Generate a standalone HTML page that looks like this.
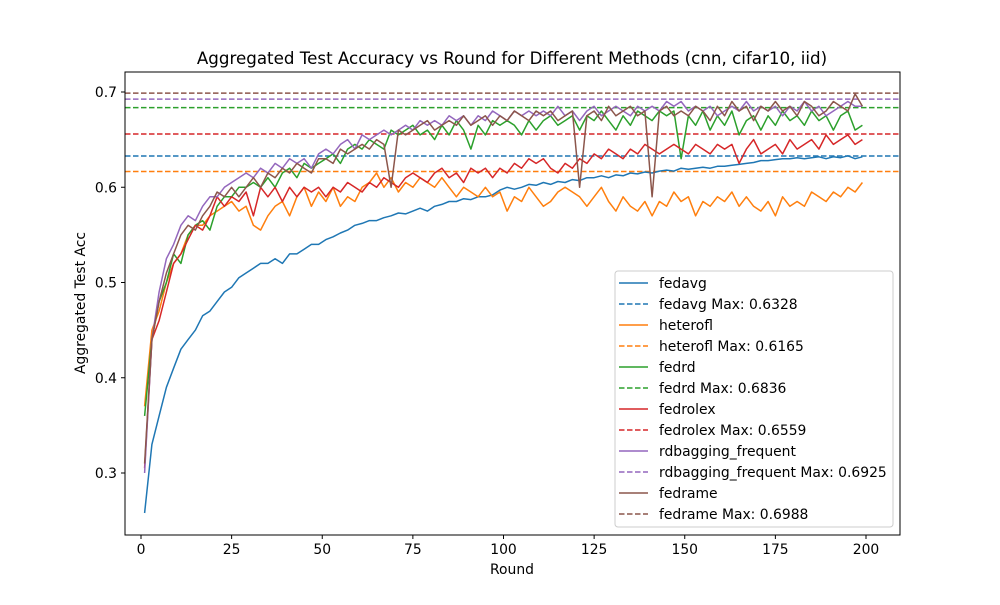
<!DOCTYPE html>
<html><head><meta charset="utf-8"><style>
body{margin:0;background:#fff;}
svg{font-family:"DejaVu Sans","Liberation Sans",sans-serif;}
</style></head><body>
<svg id="chart" width="1000" height="600" viewBox="0 0 1000 600">
<rect x="0" y="0" width="1000" height="600" fill="#fff"/>
<text x="512" y="64" text-anchor="middle" font-size="16.7">Aggregated Test Accuracy vs Round for Different Methods (cnn, cifar10, iid)</text>
<g id="plot"></g>
<rect x="125" y="72" width="775" height="463" fill="none" stroke="#000" stroke-width="1"/>
<text x="512" y="574" text-anchor="middle" font-size="13.9">Round</text>
<text transform="translate(85,303) rotate(-90)" text-anchor="middle" font-size="13.9">Aggregated Test Acc</text>
<g id="axes"></g>
<g id="legend"></g>
</svg>
<script>
const seriesNames=["fedavg","heterofl","fedrd","fedrolex","rdbagging_frequent","fedrame"];
const colors=["#1f77b4","#ff7f0e","#2ca02c","#d62728","#9467bd","#8c564b"];
const maxValues=[0.6328,0.6165,0.6836,0.6559,0.6925,0.6988];
const xTicks=[0,25,50,75,100,125,150,175,200];
const yTicks=[0.3,0.4,0.5,0.6,0.7];
const fedavg=[.258,.33,.36,.39,.41,.43,.44,.45,.465,.47,.48,.49,.495,.505,.51,.515,.52,.52,.525,.52,.53,.53,.535,.54,.54,.545,.548,.552,.555,.56,.562,.565,.565,.568,.57,.573,.572,.575,.578,.575,.58,.582,.585,.585,.588,.587,.59,.59,.592,.597,.6,.598,.6,.603,.602,.605,.603,.606,.605,.608,.607,.61,.61,.612,.61,.613,.612,.615,.614,.616,.615,.617,.618,.617,.62,.619,.62,.621,.62,.622,.622,.623,.624,.625,.626,.628,.628,.629,.63,.63,.631,.63,.631,.632,.63,.632,.631,.633,.63,.632];
const heterofl=[.37,.45,.47,.5,.52,.53,.55,.56,.56,.57,.575,.58,.585,.575,.58,.56,.555,.57,.58,.585,.57,.59,.6,.58,.595,.585,.6,.58,.59,.585,.6,.605,.615,.6,.61,.595,.605,.6,.61,.605,.6,.61,.6,.59,.6,.595,.59,.6,.59,.595,.575,.59,.585,.6,.59,.58,.585,.595,.6,.595,.59,.58,.59,.6,.585,.575,.59,.58,.575,.585,.57,.585,.58,.595,.585,.59,.57,.585,.58,.59,.585,.595,.58,.59,.58,.575,.585,.57,.59,.58,.585,.58,.595,.59,.585,.595,.59,.6,.595,.605];
const fedrd=[.36,.44,.48,.5,.53,.52,.55,.56,.565,.555,.58,.59,.59,.6,.6,.605,.6,.61,.6,.615,.62,.61,.625,.62,.625,.63,.635,.625,.64,.645,.64,.65,.645,.64,.66,.655,.66,.665,.655,.66,.65,.665,.655,.67,.66,.64,.665,.655,.67,.665,.67,.665,.655,.67,.66,.67,.675,.665,.67,.675,.66,.675,.67,.68,.67,.66,.675,.665,.68,.675,.67,.68,.675,.68,.63,.675,.665,.68,.66,.675,.665,.68,.655,.67,.675,.66,.675,.665,.68,.67,.675,.665,.68,.67,.675,.66,.675,.68,.66,.665];
const fedrolex=[.305,.44,.46,.49,.52,.53,.545,.56,.555,.57,.59,.58,.59,.585,.595,.57,.6,.59,.6,.585,.6,.59,.6,.595,.6,.59,.6,.595,.605,.6,.595,.605,.6,.61,.605,.6,.61,.615,.61,.605,.615,.62,.61,.615,.605,.62,.615,.62,.61,.62,.615,.625,.62,.63,.625,.63,.62,.615,.625,.62,.63,.625,.635,.63,.64,.635,.63,.64,.635,.645,.64,.635,.64,.645,.64,.635,.645,.64,.635,.645,.64,.645,.625,.64,.65,.635,.64,.645,.635,.65,.64,.645,.65,.64,.655,.645,.65,.655,.645,.65];
const rdbagging=[.3,.44,.49,.525,.54,.56,.57,.565,.58,.59,.59,.6,.605,.61,.615,.61,.62,.615,.625,.62,.63,.625,.63,.62,.635,.64,.635,.645,.65,.64,.655,.65,.655,.66,.655,.66,.665,.66,.67,.665,.67,.665,.675,.67,.675,.665,.675,.67,.68,.675,.67,.68,.675,.68,.675,.68,.675,.685,.675,.68,.67,.68,.685,.675,.68,.685,.68,.675,.685,.68,.685,.68,.69,.685,.69,.68,.685,.68,.685,.675,.68,.685,.68,.69,.68,.685,.68,.685,.675,.685,.68,.69,.68,.685,.675,.68,.685,.69,.685,.685];
const fedrame=[.31,.44,.48,.51,.53,.55,.56,.555,.57,.58,.595,.59,.6,.59,.6,.61,.6,.615,.61,.62,.615,.625,.62,.615,.63,.63,.625,.64,.635,.64,.645,.64,.65,.645,.6,.66,.655,.66,.665,.67,.66,.665,.67,.665,.675,.665,.67,.675,.665,.675,.67,.68,.675,.67,.68,.675,.68,.67,.675,.68,.6,.675,.68,.67,.685,.675,.68,.685,.675,.68,.59,.68,.685,.675,.68,.675,.685,.68,.67,.685,.675,.69,.68,.685,.67,.685,.68,.69,.68,.685,.675,.69,.685,.675,.68,.69,.685,.68,.698,.685];
const allSeries=[fedavg,heterofl,fedrd,fedrolex,rdbagging,fedrame];
const NS="http://www.w3.org/2000/svg";
function xs(r){return 141+r*3.625;}
function ys(v){return 473-(v-0.3)*952.5;}
function mk(tag,attrs,parent){const e=document.createElementNS(NS,tag);for(const k in attrs)e.setAttribute(k,attrs[k]);parent.appendChild(e);return e;}
const plot=document.getElementById('plot'),axes=document.getElementById('axes'),leg=document.getElementById('legend');
maxValues.forEach((m,i)=>{
  const l=mk('line',{x1:125,x2:900,y1:ys(m),y2:ys(m),stroke:colors[i],'stroke-width':1.5,'stroke-dasharray':'5.5,2.5'},plot);
  
  
});
allSeries.forEach((s,i)=>{
  const pts=s.map((v,j)=>xs(1+2*j).toFixed(1)+','+ys(v).toFixed(1)).join(' ');
  const p=mk('polyline',{points:pts,fill:'none',stroke:colors[i],'stroke-width':1.5,'stroke-linejoin':'round'},plot);
  
  
});
xTicks.forEach(t=>{
  mk('line',{x1:xs(t),x2:xs(t),y1:535,y2:539,stroke:'#000'},axes);
  const tx=mk('text',{x:xs(t),y:554,'text-anchor':'middle','font-size':13.9},axes);
  tx.textContent=t;
  
  
});
yTicks.forEach(t=>{
  mk('line',{x1:121,x2:125,y1:ys(t),y2:ys(t),stroke:'#000'},axes);
  const tx=mk('text',{x:117,y:ys(t)+5,'text-anchor':'end','font-size':13.9},axes);
  tx.textContent=t.toFixed(1);
  
  
});
const lb=mk('rect',{x:615,y:271,width:278,height:256,rx:3,fill:'#fff','fill-opacity':0.8,stroke:'#ccc'},leg);


let k=0;
seriesNames.forEach((n,i)=>{
  [[n,null],[n+' Max: '+maxValues[i].toFixed(4),'5.5,2.5']].forEach(([label,dash])=>{
    const y=283+k*21;
    const a={x1:619,x2:648,y1:y,y2:y,stroke:colors[i],'stroke-width':1.5};
    if(dash)a['stroke-dasharray']=dash;
    mk('line',a,leg);
    const tx=mk('text',{x:659,y:y+5,'font-size':13.9},leg);
    tx.textContent=label;
    
    
    k++;
  });
});
</script>
</body></html>
